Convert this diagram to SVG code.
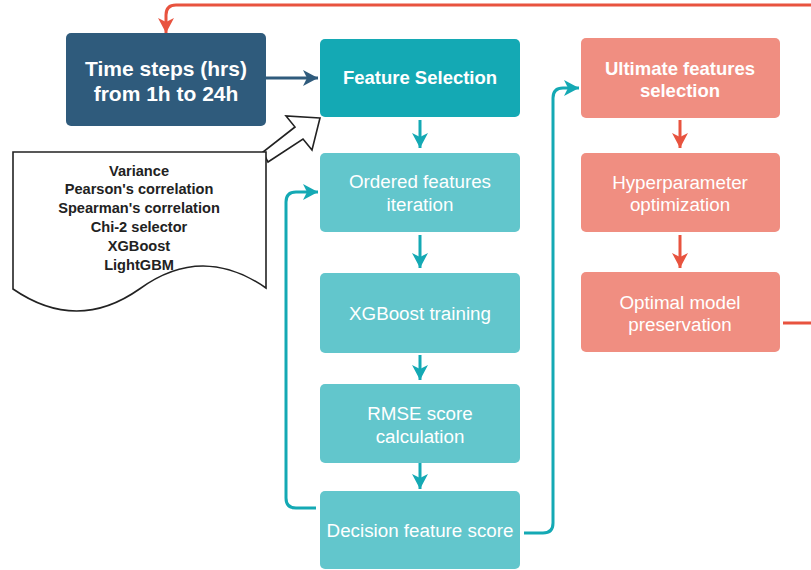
<svg xmlns="http://www.w3.org/2000/svg" width="811" height="570" viewBox="0 0 811 570">
<style>
.t{font-family:"Liberation Sans",Arial,sans-serif;fill:#fff;text-anchor:middle;dominant-baseline:central}
.b{font-weight:bold}
.r{font-size:18.8px}
.d{font-family:"Liberation Sans",Arial,sans-serif;fill:#222;text-anchor:middle;font-size:14.6px;font-weight:bold}
.ln{fill:none;stroke-width:3;stroke-linejoin:round}
</style>
<defs>
<marker id="aT" markerUnits="userSpaceOnUse" markerWidth="18" markerHeight="18" viewBox="0 0 18 18" refX="16" refY="9" orient="auto">
<path d="M1,1 L16,9 L1,17 L5,9 Z" fill="#14a9b4"/>
</marker>
<marker id="aR" markerUnits="userSpaceOnUse" markerWidth="18" markerHeight="18" viewBox="0 0 18 18" refX="16" refY="9" orient="auto">
<path d="M1,1 L16,9 L1,17 L5,9 Z" fill="#e8533f"/>
</marker>
<marker id="aB" markerUnits="userSpaceOnUse" markerWidth="18" markerHeight="18" viewBox="0 0 18 18" refX="16" refY="9" orient="auto">
<path d="M1,1 L16,9 L1,17 L5,9 Z" fill="#2f5b7c"/>
</marker>
</defs>

<g id="connectors">
<path class="ln" stroke="#2f5b7c" d="M266,78 L318,78" marker-end="url(#aB)"/>
<path class="ln" stroke="#14a9b4" d="M420,120 L420,148" marker-end="url(#aT)"/>
<path class="ln" stroke="#14a9b4" d="M420,235 L420,268" marker-end="url(#aT)"/>
<path class="ln" stroke="#14a9b4" d="M420,355 L420,380" marker-end="url(#aT)"/>
<path class="ln" stroke="#14a9b4" d="M420,463 L420,489" marker-end="url(#aT)"/>
<path class="ln" stroke="#14a9b4" d="M316,508 L296,508 Q286,508 286,498 L286,202 Q286,192 296,192 L318,192" marker-end="url(#aT)"/>
<path class="ln" stroke="#14a9b4" d="M524,533 L543,533 Q553,533 553,523 L553,98 Q553,88 563,88 L579,88" marker-end="url(#aT)"/>
<path class="ln" stroke="#e8533f" d="M680,120 L680,148" marker-end="url(#aR)"/>
<path class="ln" stroke="#e8533f" d="M680,235 L680,268" marker-end="url(#aR)"/>
<path class="ln" stroke="#e8533f" d="M783,323 L816,323 L816,5 L176,5 Q166,5 166,15 L166,33" marker-end="url(#aR)"/>
<polygon points="320,118 286,116 295,127 263,152 268,162 303,139 312,150" fill="#fff" stroke="#222" stroke-width="1.6" stroke-linejoin="miter"/>
</g>

<g id="doc">
<path d="M13,152 L266,152 L266,288 Q202,243.5 139.5,289 Q77,333 13,289 Z" fill="#fff" stroke="#222" stroke-width="1.6"/>
<text class="d" x="139" y="176">Variance</text>
<text class="d" x="139" y="194">Pearson's correlation</text>
<text class="d" x="139" y="213">Spearman's correlation</text>
<text class="d" x="139" y="232">Chi-2 selector</text>
<text class="d" x="139" y="251">XGBoost</text>
<text class="d" x="139" y="270">LightGBM</text>
</g>

<g id="timesteps">
<rect x="66" y="33" width="200" height="93" rx="5" fill="#2f5b7c"/>
<text class="t b" font-size="21" x="166" y="68">Time steps (hrs)</text>
<text class="t b" font-size="21" x="166" y="93">from 1h to 24h</text>
</g>

<g id="featureselection">
<rect x="320" y="39" width="200" height="78" rx="5" fill="#14a9b4"/>
<text class="t b" font-size="18.5" x="420" y="77">Feature Selection</text>
</g>

<g id="ordered">
<rect x="320" y="153" width="200" height="79" rx="5" fill="#62c6cc"/>
<text class="t r" x="420" y="181">Ordered features</text>
<text class="t r" x="420" y="204">iteration</text>
</g>

<g id="xgboost">
<rect x="320" y="273" width="200" height="80" rx="5" fill="#62c6cc"/>
<text class="t r" x="420" y="313">XGBoost training</text>
</g>

<g id="rmse">
<rect x="320" y="384" width="200" height="79" rx="5" fill="#62c6cc"/>
<text class="t r" x="420" y="413">RMSE score</text>
<text class="t r" x="420" y="436">calculation</text>
</g>

<g id="decision">
<rect x="320" y="491" width="200" height="78" rx="5" fill="#62c6cc"/>
<text class="t r" x="420" y="530">Decision feature score</text>
</g>

<g id="ultimate">
<rect x="581" y="38" width="199" height="80" rx="5" fill="#f08e81"/>
<text class="t b" font-size="18.5" x="680" y="68">Ultimate features</text>
<text class="t b" font-size="18.5" x="680" y="90">selection</text>
</g>

<g id="hyper">
<rect x="581" y="153" width="199" height="79" rx="5" fill="#f08e81"/>
<text class="t r" x="680" y="182">Hyperparameter</text>
<text class="t r" x="680" y="204">optimization</text>
</g>

<g id="optimal">
<rect x="581" y="272" width="199" height="80" rx="5" fill="#f08e81"/>
<text class="t r" x="680" y="302">Optimal model</text>
<text class="t r" x="680" y="324">preservation</text>
</g>
</svg>
